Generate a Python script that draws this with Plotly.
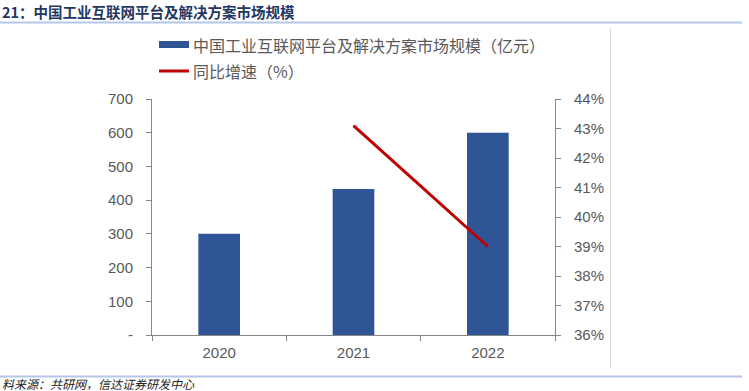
import plotly.graph_objects as go

years = ["2020", "2021", "2022"]
market_size = [300, 433, 600]
growth_years = ["2021", "2022"]
growth_rate = [0.431, 0.390]
left_ticks = [0, 100, 200, 300, 400, 500, 600, 700]
left_ticktext = ["-", "100", "200", "300", "400", "500", "600", "700"]
right_ticks = [0.36, 0.37, 0.38, 0.39, 0.40, 0.41, 0.42, 0.43, 0.44]

title_text = "21：中国工业互联网平台及解决方案市场规模"
source_text = "料来源：共研网，信达证券研发中心"
legend_bar = "中国工业互联网平台及解决方案市场规模（亿元）"
legend_line = "同比增速（%）"

W, H = 749, 391
L, R, T, B = 152, 555, 99, 335

def px(x):
    return (x - L) / (R - L)

def py(y):
    return (B - y) / (B - T)

FONT = "Liberation Sans, Arial, Noto Sans CJK SC, sans-serif"
CJK = "Noto Sans CJK SC, sans-serif"
AX = "#868686"
TXT = "#595959"

fig = go.Figure()
fig.add_trace(go.Bar(x=years, y=market_size, marker_color="#2F5597",
                     marker_line_width=0, width=0.31, yaxis="y",
                     name=legend_bar, showlegend=False))
fig.add_trace(go.Scatter(x=growth_years, y=growth_rate, mode="lines",
                         line=dict(color="#C00000", width=3), yaxis="y2",
                         name=legend_line, showlegend=False))

fig.update_layout(
    width=W, height=H,
    margin=dict(l=L, r=W - R, t=T, b=H - B),
    paper_bgcolor="white", plot_bgcolor="white",
    font=dict(family=FONT, size=15, color=TXT),
    xaxis=dict(type="category", categoryorder="array", categoryarray=years,
               range=[-0.5, 2.5], showgrid=False, showline=True,
               linecolor=AX, linewidth=1, ticks="outside", tickson="boundaries",
               ticklen=5, tickcolor=AX, tickfont=dict(size=15, color=TXT),
               ticklabelstandoff=4),
    yaxis=dict(range=[0, 700], tickvals=left_ticks, ticktext=left_ticktext,
               showgrid=False, showline=True, linecolor=AX, linewidth=1,
               ticks="outside", ticklen=5, tickcolor=AX, zeroline=False,
               tickfont=dict(size=15, color=TXT), ticklabelstandoff=10),
    yaxis2=dict(range=[0.36, 0.44], tickvals=right_ticks, tickformat=".0%",
                overlaying="y", side="right", showgrid=False, showline=True,
                linecolor=AX, linewidth=1, ticks="outside", ticklen=5,
                tickcolor=AX, zeroline=False,
                tickfont=dict(size=15, color=TXT), ticklabelstandoff=10),
    showlegend=False,
)

shapes = [
    # legend swatches
    dict(type="rect", xref="paper", yref="paper", x0=px(159), x1=px(189),
         y0=py(48), y1=py(41), fillcolor="#2F5597", line_width=0),
    dict(type="line", xref="paper", yref="paper", x0=px(159), x1=px(189),
         y0=py(71), y1=py(71), line=dict(color="#C00000", width=3)),
    # frame lines
    dict(type="line", xref="paper", yref="paper", x0=px(0), x1=px(742),
         y0=py(22.5), y1=py(22.5), line=dict(color="#B4C7E7", width=2)),
    dict(type="line", xref="paper", yref="paper", x0=px(0), x1=px(742),
         y0=py(376.5), y1=py(376.5), line=dict(color="#B4C7E7", width=2)),
    dict(type="line", xref="paper", yref="paper", x0=px(610.5), x1=px(610.5),
         y0=py(28), y1=py(369), line=dict(color="#D9D9D9", width=1)),
]
fig.update_layout(shapes=shapes)

annotations = [
    dict(text=legend_bar, x=px(191), y=py(44.5), xanchor="left", yanchor="middle",
         font=dict(family=CJK, size=16, color=TXT)),
    dict(text=legend_line, x=px(191), y=py(71), xanchor="left", yanchor="middle",
         font=dict(family=CJK, size=16, color=TXT)),
    dict(text="<b>" + title_text + "</b>", x=px(0), y=py(11.5), xanchor="left",
         yanchor="middle", font=dict(family=CJK, size=14.5, color="#1F3763")),
    dict(text="<i>" + source_text + "</i>", x=px(0), y=py(383.5), xanchor="left",
         yanchor="middle", font=dict(family=CJK, size=12, color="#222222")),
]
for a in annotations:
    a.update(xref="paper", yref="paper", showarrow=False)
fig.update_layout(annotations=annotations)

fig.write_html("out.html",
               config={"displayModeBar": False},
               post_script="document.body.style.margin='0';"
                           "document.body.style.overflow='hidden';")
